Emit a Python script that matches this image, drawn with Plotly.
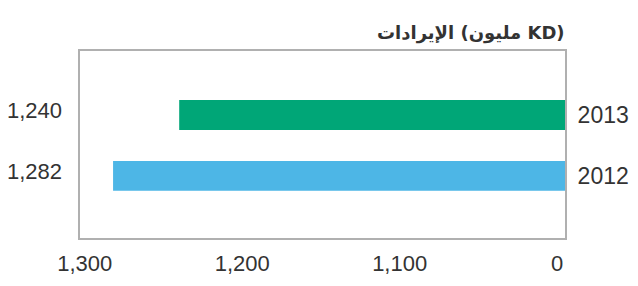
import plotly.graph_objects as go

years = ["2012", "2013"]
revenues = [1282, 1240]
value_labels = ["1,282", "1,240"]
bar_colors = ["#4db6e6", "#00a677"]
tick_vals = [1300, 1200, 1100, 1000]
tick_text = ["1,300", "1,200", "1,100", "0"]
title_text = "الإيرادات (مليون KD)"

FONT = "Liberation Sans, Arial, DejaVu Sans, sans-serif"
TXT = "#333333"

fig = go.Figure()
fig.add_trace(go.Bar(
    x=revenues, y=years, orientation="h",
    marker=dict(color=bar_colors, line=dict(width=0)),
    width=0.49, hoverinfo="skip",
))

for i, lab in enumerate(value_labels):
    fig.add_annotation(x=-0.033, xref="paper", y=i, yref="y", text=lab,
                       showarrow=False, xanchor="right", yanchor="middle",
                       yshift=4,
                       font=dict(family=FONT, size=22, color=TXT))

fig.add_annotation(x=1.005, xref="paper", y=1.0, yref="paper", yshift=18,
                   text="<b>" + title_text + "</b>", showarrow=False,
                   xanchor="right", yanchor="middle",
                   font=dict(family="DejaVu Sans, sans-serif", size=18, color=TXT))

fig.update_layout(
    width=622, height=270,
    margin=dict(l=72, r=65, t=43, b=40, autoexpand=False),
    paper_bgcolor="white", plot_bgcolor="white",
    showlegend=False,
    xaxis=dict(range=[1303, 995], tickvals=tick_vals, ticktext=tick_text,
               automargin=False,
               showgrid=False, zeroline=False, showline=True, mirror=True,
               linecolor="#b0b0b0", linewidth=2, ticks="",
               ticklabelstandoff=5,
               tickfont=dict(family=FONT, size=22, color=TXT)),
    yaxis=dict(type="category", range=[-1.02, 2.05], side="right",
               automargin=False, showgrid=False, zeroline=False,
               showline=True, mirror=True, linecolor="#b0b0b0", linewidth=2,
               ticks="", ticklabelstandoff=6,
               tickfont=dict(family=FONT, size=23, color=TXT)),
)

fig.write_html("out.html")
